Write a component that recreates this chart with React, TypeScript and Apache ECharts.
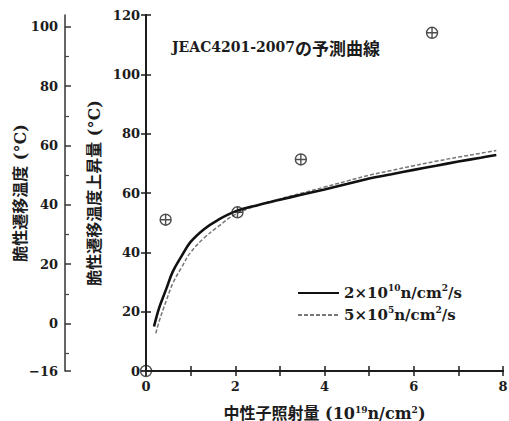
import React, { useEffect, useRef } from "react";
import * as echarts from "echarts";

// ---- data ----
const xLabelValues = [0, 2, 4, 6, 8];
const innerYLabels = [0, 20, 40, 60, 80, 100, 120];
const outerYLabels = [-16, 0, 20, 40, 60, 80, 100];
const outerYMinorTicks = [-10, 10, 30, 50, 70, 90];

const highFluxName = "2×10^10 n/cm2/s";
const lowFluxName = "5×10^5 n/cm2/s";

const highFluxDose = [0.18, 0.3, 0.45, 0.6, 0.8, 1.0, 1.3, 1.6, 2.0, 2.5, 3.0, 3.5, 4.0, 4.5, 5.0, 5.5, 6.0, 6.5, 7.0, 7.5, 7.85];
const highFluxShift = [15, 21.5, 27.5, 33.5, 38.8, 43.5, 47.8, 50.8, 53.8, 55.9, 57.7, 59.5, 61.2, 63, 64.9, 66.3, 67.8, 69.2, 70.6, 71.9, 72.8];

const lowFluxDose = [0.22, 0.3, 0.45, 0.6, 0.8, 1.0, 1.3, 1.6, 2.0, 2.5, 3.0, 3.5, 4.0, 4.5, 5.0, 5.5, 6.0, 6.5, 7.0, 7.5, 7.85];
const lowFluxShift = [12.7, 17, 23.5, 29.5, 35, 40, 44.8, 48.5, 52.8, 55.8, 58, 60, 62, 64, 66, 67.6, 69.2, 70.7, 72.1, 73.4, 74.3];

const measuredDose = [0, 0.44, 2.05, 3.47, 6.41];
const measuredShift = [0, 51, 53.5, 71.3, 114];

const SERIF = "'DejaVu Serif', 'Noto Sans CJK JP', serif";
const INK = "#1c1c1c";

const sup = { fontSize: 9, verticalAlign: "top", lineHeight: 8, fontFamily: SERIF, fontWeight: "bold", color: INK } as any;

export default function App() {
  const ref = useRef<HTMLDivElement>(null);
  useEffect(() => {
    if (!ref.current) return;
    const chart = echarts.init(ref.current, null, { renderer: "svg" });
    const tickLabelStyle = { fontFamily: SERIF, fontWeight: "bold", fontSize: 13, color: INK };
    const nameStyle = {
      fontFamily: SERIF,
      fontWeight: "bold",
      fontSize: 16,
      color: INK,
      rich: { sup },
    };
    const boxLine = { lineStyle: { color: INK, width: 2 } };
    const option: any = {
      animation: false,
      backgroundColor: "#ffffff",
      title: {
        text: "{a|JEAC4201-2007}{b|の予測曲線}",
        left: 167,
        top: 34,
        textStyle: {
          rich: {
            a: { fontFamily: SERIF, fontWeight: "bold", fontSize: 14, color: INK },
            b: { fontFamily: "'Noto Sans CJK JP', sans-serif", fontWeight: "bold", fontSize: 17, color: INK },
          },
        },
      },
      legend: {
        data: [highFluxName, lowFluxName],
        orient: "vertical",
        left: 292,
        top: 278,
        itemWidth: 41,
        itemHeight: 12,
        itemGap: 2,
        itemStyle: { opacity: 0 },
        formatter: (name: string) =>
          name === highFluxName
            ? "2×10{sup|10}n/cm{sup|2}/s"
            : "5×10{sup|5}n/cm{sup|2}/s",
        textStyle: {
          fontFamily: SERIF,
          fontWeight: "bold",
          fontSize: 15,
          color: INK,
          lineHeight: 20,
          rich: { sup },
        },
      },
      grid: { left: 146, right: 6, top: 15, bottom: 50, outerBoundsMode: "none" },
      xAxis: [
        {
          type: "value",
          min: 0,
          max: 8,
          interval: 1,
          position: "bottom",
          axisLine: boxLine,
          axisTick: { inside: true, length: 5, lineStyle: { color: INK, width: 1.5 } },
          axisLabel: {
            ...tickLabelStyle,
            margin: 9,
            formatter: (v: number) => (xLabelValues.includes(v) ? String(v) : ""),
          },
          splitLine: { show: false },
          name: "中性子照射量 (10{sup|19}n/cm{sup|2})",
          nameLocation: "middle",
          nameGap: 34,
          nameTextStyle: nameStyle,
        },
        {
          type: "value",
          min: 0,
          max: 8,
          interval: 1,
          position: "top",
          axisLine: boxLine,
          axisTick: { inside: true, length: 5, lineStyle: { color: INK, width: 1.5 } },
          axisLabel: { show: false },
          splitLine: { show: false },
        },
      ],
      yAxis: [
        {
          type: "value",
          min: 0,
          max: 120,
          interval: 20,
          position: "left",
          axisLine: boxLine,
          axisTick: { inside: true, length: 5, lineStyle: { color: INK, width: 1.5 } },
          axisLabel: {
            ...tickLabelStyle,
            margin: 6,
            formatter: (v: number) => (innerYLabels.includes(v) ? String(v) : ""),
          },
          splitLine: { show: false },
          name: "脆性遷移温度上昇量 (°C)",
          nameLocation: "middle",
          nameGap: 44,
          nameMoveOverlap: false,
          nameTextStyle: nameStyle,
        },
        {
          type: "value",
          min: 0,
          max: 120,
          interval: 20,
          position: "right",
          axisLine: boxLine,
          axisTick: { inside: true, length: 5, lineStyle: { color: INK, width: 1.5 } },
          axisLabel: { show: false },
          splitLine: { show: false },
        },
        {
          type: "value",
          min: -16,
          max: 104,
          position: "left",
          offset: 81,
          axisLine: { show: true, lineStyle: { color: "#333", width: 1.5 } },
          axisTick: { inside: true, length: 6, customValues: outerYLabels, lineStyle: { color: "#333", width: 1.5 } },
          axisLabel: { ...tickLabelStyle, margin: 7, customValues: outerYLabels, formatter: (v: number) => (v < 0 ? "−" + Math.abs(v) : String(v)) },
          splitLine: { show: false },
          name: "脆性遷移温度 (°C)",
          nameLocation: "middle",
          nameGap: 37,
          nameMoveOverlap: false,
          nameTextStyle: nameStyle,
        },
        {
          type: "value",
          min: -16,
          max: 104,
          position: "left",
          offset: 81,
          axisLine: { show: false },
          axisTick: { inside: true, length: 4, customValues: outerYMinorTicks, lineStyle: { color: "#444", width: 1.2 } },
          axisLabel: { show: false },
          splitLine: { show: false },
        },
      ],
      series: [
        {
          name: highFluxName,
          type: "line",
          xAxisIndex: 0,
          yAxisIndex: 0,
          data: highFluxDose.map((x, i) => [x, highFluxShift[i]]),
          symbol: "none",
          smooth: 0.4,
          lineStyle: { color: "#111", width: 2.6 },
          itemStyle: { color: "#111" },
          z: 3,
        },
        {
          name: lowFluxName,
          type: "line",
          xAxisIndex: 0,
          yAxisIndex: 0,
          data: lowFluxDose.map((x, i) => [x, lowFluxShift[i]]),
          symbol: "none",
          smooth: 0.4,
          lineStyle: { color: "#777", width: 1.5, type: [4, 2] },
          itemStyle: { color: "#777" },
          z: 2,
        },
        {
          name: "measured",
          type: "scatter",
          xAxisIndex: 0,
          yAxisIndex: 0,
          data: measuredDose.map((x, i) => [x, measuredShift[i]]),
          symbol: "path://M10,0A10,10,0,1,1,10,20A10,10,0,1,1,10,0ZM0,10L20,10M10,0L10,20",
          symbolSize: 11,
          clip: false,
          itemStyle: { color: "rgba(0,0,0,0)", borderColor: "#222", borderWidth: 1.4 },
          z: 5,
        },
      ],
    };
    chart.setOption(option);
    return () => chart.dispose();
  }, []);
  return (
    <div
      ref={ref}
      style={{ position: "fixed", left: 0, top: 0, width: 509, height: 421, background: "#fff" }}
    />
  );
}
